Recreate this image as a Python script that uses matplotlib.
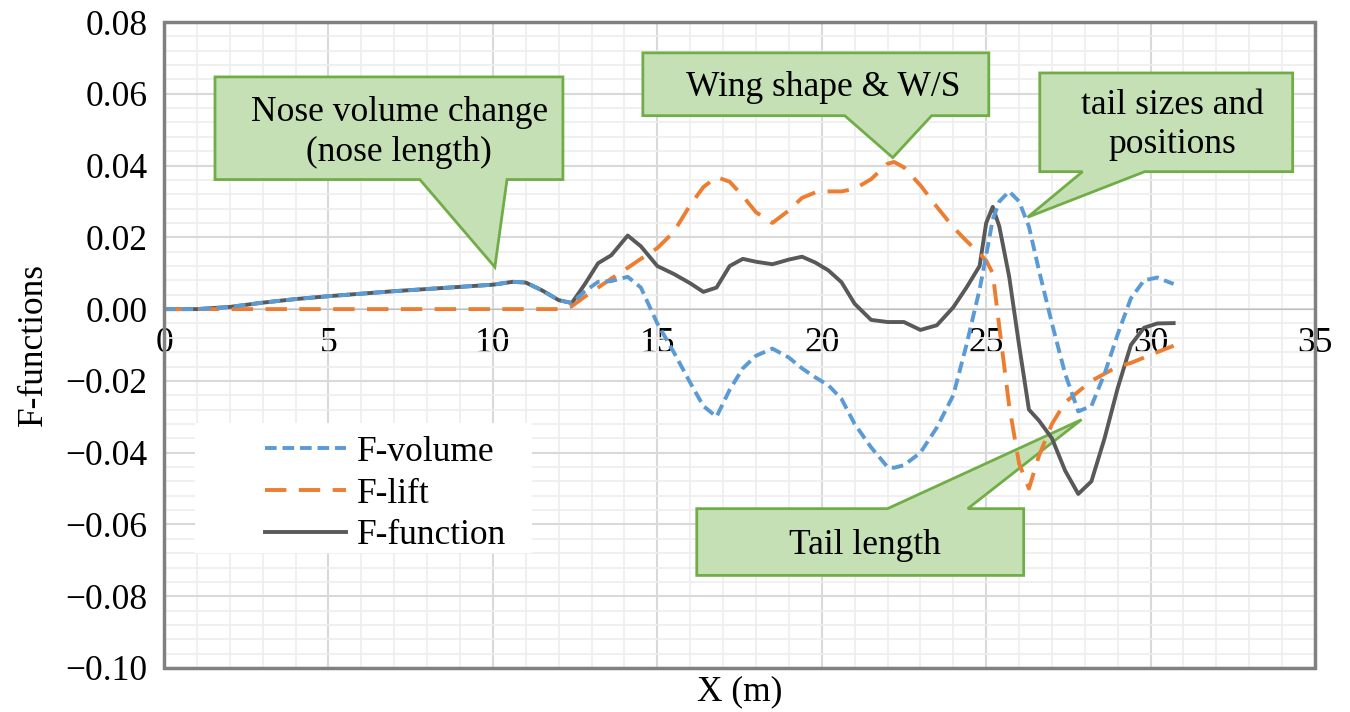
import matplotlib
matplotlib.use("Agg")
import matplotlib.pyplot as plt
from matplotlib.patches import Polygon, Rectangle
from matplotlib.lines import Line2D
from matplotlib.ticker import MultipleLocator, FuncFormatter

plt.rcParams['font.family'] = ['Liberation Serif', 'DejaVu Serif']
plt.rcParams['axes.unicode_minus'] = True

# stations along the fuselage (m)
x_m = [0, 1, 2, 3, 4, 5, 6, 7, 8, 9, 10, 10.6, 11.0, 11.5, 12.0, 12.4,
       12.8, 13.2, 13.6, 14.1, 14.5, 15.0, 15.5, 16.0, 16.4, 16.8, 17.2,
       17.6, 18.0, 18.5, 19.0, 19.4, 19.8, 20.2, 20.6, 21.0, 21.5, 22.0,
       22.2, 22.5, 23.0, 23.5, 24.0, 24.4, 24.8, 25.0, 25.2, 25.4, 25.7,
       26.0, 26.3, 26.6, 27.0, 27.4, 27.8, 28.2, 28.6, 29.0, 29.4, 29.8,
       30.2, 30.7]

f_volume = [0.0, 0.0, 0.0006, 0.0018, 0.0028, 0.0036, 0.0043, 0.0050, 0.0056,
            0.0062, 0.0068, 0.0076, 0.0074, 0.0052, 0.0025, 0.0017,
            0.0050, 0.0076, 0.0078, 0.0090, 0.0060, -0.0040, -0.0120, -0.0205,
            -0.0270, -0.0300, -0.0225, -0.0165, -0.0130, -0.0110, -0.0135,
            -0.0165, -0.0190, -0.0212, -0.0250, -0.0320, -0.0385, -0.0440,
            -0.0442, -0.0435, -0.0400, -0.0330, -0.0240, -0.0100, 0.0055,
            0.0150, 0.0250, 0.0300, 0.0328, 0.0300, 0.0230, 0.0110, -0.0040,
            -0.0180, -0.0285, -0.0270, -0.0180, -0.0070, 0.0030, 0.0080,
            0.0088, 0.0070]

f_lift = [0.0, 0.0, 0.0, 0.0, 0.0, 0.0, 0.0, 0.0, 0.0, 0.0, 0.0, 0.0, 0.0,
          0.0, 0.0, 0.0008, 0.0035, 0.0060, 0.0085, 0.0115, 0.0140, 0.0170,
          0.0215, 0.0290, 0.0340, 0.0368, 0.0355, 0.0315, 0.0270, 0.0240,
          0.0275, 0.0310, 0.0325, 0.0328, 0.0328, 0.0335, 0.0362, 0.0405,
          0.0410, 0.0395, 0.0345, 0.0285, 0.0228, 0.0190, 0.0155, 0.0135,
          0.0100, -0.0050, -0.0270, -0.0430, -0.0500, -0.0410, -0.0320,
          -0.0260, -0.0230, -0.0200, -0.0180, -0.0160, -0.0150, -0.0135,
          -0.0120, -0.0102]

f_function = [0.0, 0.0, 0.0006, 0.0018, 0.0028, 0.0036, 0.0043, 0.0050, 0.0056,
              0.0062, 0.0068, 0.0076, 0.0074, 0.0052, 0.0025, 0.0017,
              0.0070, 0.0128, 0.0150, 0.0205, 0.0175, 0.0120, 0.0098, 0.0072,
              0.0048, 0.0060, 0.0120, 0.0140, 0.0132, 0.0125, 0.0138, 0.0146,
              0.0130, 0.0108, 0.0075, 0.0015, -0.0030, -0.0036, -0.0036,
              -0.0036, -0.0058, -0.0045, 0.0005, 0.0060, 0.0120, 0.0240, 0.0285,
              0.0230, 0.0090, -0.0100, -0.0280, -0.0310, -0.0360, -0.0450,
              -0.0515, -0.0480, -0.0360, -0.0220, -0.0100, -0.0052, -0.0040,
              -0.0039]

series_labels = ["F-volume", "F-lift", "F-function"]
x_ticks = [0, 5, 10, 15, 20, 25, 30, 35]
y_ticks = [-0.10, -0.08, -0.06, -0.04, -0.02, 0.00, 0.02, 0.04, 0.06, 0.08]

BLUE = '#5B9BD5'
ORANGE = '#ED7D31'
GREY = '#595959'
FONT = 25.5
LW = 2.8


def callout(ax, box, base, tip, text, center):
    """Green speech-bubble: box=(x0, x1, y0, y1), base=(bx0, bx1) on the
    edge facing the tip."""
    x0, x1, y0, y1 = box
    bx0, bx1 = base
    if tip[1] < y0:
        verts = [(x0, y1), (x1, y1), (x1, y0), (bx1, y0), tip, (bx0, y0), (x0, y0)]
    else:
        verts = [(x0, y0), (x0, y1), (bx0, y1), tip, (bx1, y1), (x1, y1), (x1, y0)]
    ax.add_patch(Polygon(verts, closed=True, facecolor='#C5E0B4',
                         edgecolor='#70AD47', lw=2, zorder=2.5))
    ax.text(center[0], center[1], text, ha='center', va='center',
            fontsize=FONT, linespacing=1.25, zorder=2.6)


fig = plt.figure(figsize=(13.5, 7.12), dpi=100)
ax = fig.add_axes([0.1215, 0.0618, 0.8526, 0.9073])

ax.set_xlim(0, 35)
ax.set_ylim(-0.10, 0.08)
ax.set_xticks(x_ticks)
ax.set_yticks(y_ticks)
ax.xaxis.set_minor_locator(MultipleLocator(1))
ax.yaxis.set_minor_locator(MultipleLocator(0.004))
ax.yaxis.set_major_formatter(FuncFormatter(
    lambda v, p: f"{v:.2f}".replace('-0.00', '0.00').replace('-', '\u2212')))
ax.grid(which='major', color='#d9d9d9', lw=1.5, zorder=0)
ax.grid(which='minor', color='#eeeeee', lw=1.2, zorder=0)
ax.set_axisbelow(True)

for s in ['top', 'right', 'left']:
    ax.spines[s].set_visible(False)
ax.spines['bottom'].set_position(('data', 0))
ax.spines['bottom'].set_color('#bfbfbf')
ax.tick_params(which='both', length=0, labelsize=FONT)
ax.tick_params(axis='x', pad=13)
ax.tick_params(axis='y', pad=12)

# plot frame
ax.add_patch(Rectangle((0, 0), 1, 1, transform=ax.transAxes, fill=False,
                       edgecolor='#808080', lw=2.5, zorder=6, clip_on=False))

ax.plot(x_m, f_function, color=GREY, lw=LW, zorder=3)
ax.plot(x_m, f_lift, color=ORANGE, lw=LW, dashes=(5.5, 3.2), zorder=3.1)
ax.plot(x_m, f_volume, color=BLUE, lw=LW, dashes=(3.0, 1.5), zorder=3.2)

ax.set_xlabel('X (m)', fontsize=FONT)
ax.xaxis.set_label_coords(0.5, -0.012)
ax.set_ylabel('F-functions', fontsize=FONT)
ax.yaxis.set_label_coords(-0.099, 0.5)

callout(ax, (1.55, 12.13, 0.0361, 0.0647), (7.78, 10.43), (10.06, 0.0117),
        'Nose volume change\n(nose length)', (7.15, 0.0492))
callout(ax, (14.56, 25.08, 0.0539, 0.0714), (20.7, 23.34), (22.16, 0.0422),
        'Wing shape & W/S', (20.05, 0.0617))
callout(ax, (26.63, 34.32, 0.0383, 0.0658), (27.93, 29.82), (26.26, 0.0256),
        'tail sizes and\npositions', (30.66, 0.0512))
callout(ax, (16.2, 26.14, -0.0742, -0.0556), (22.0, 24.44), (27.9, -0.0308),
        'Tail length', (21.3, -0.0658))

# legend on a white panel
ax.add_patch(Rectangle(((195 - 164) / 1151, (668 - 553) / 646),
                       337 / 1151, 130 / 646, transform=ax.transAxes,
                       facecolor='white', edgecolor='none', zorder=4))
handles = [Line2D([], [], color=BLUE, lw=LW, dashes=(3.0, 1.5)),
           Line2D([], [], color=ORANGE, lw=LW, dashes=(5.5, 3.2)),
           Line2D([], [], color=GREY, lw=LW)]
leg = ax.legend(handles, series_labels, loc='upper left',
                bbox_to_anchor=((240 - 164) / 1151, (668 - 411) / 646),
                frameon=False, fontsize=FONT, handlelength=2.3,
                handletextpad=0.3, labelspacing=0.25, borderpad=0.2)
leg.set_zorder(5)

fig.savefig('out.png', dpi=100)
